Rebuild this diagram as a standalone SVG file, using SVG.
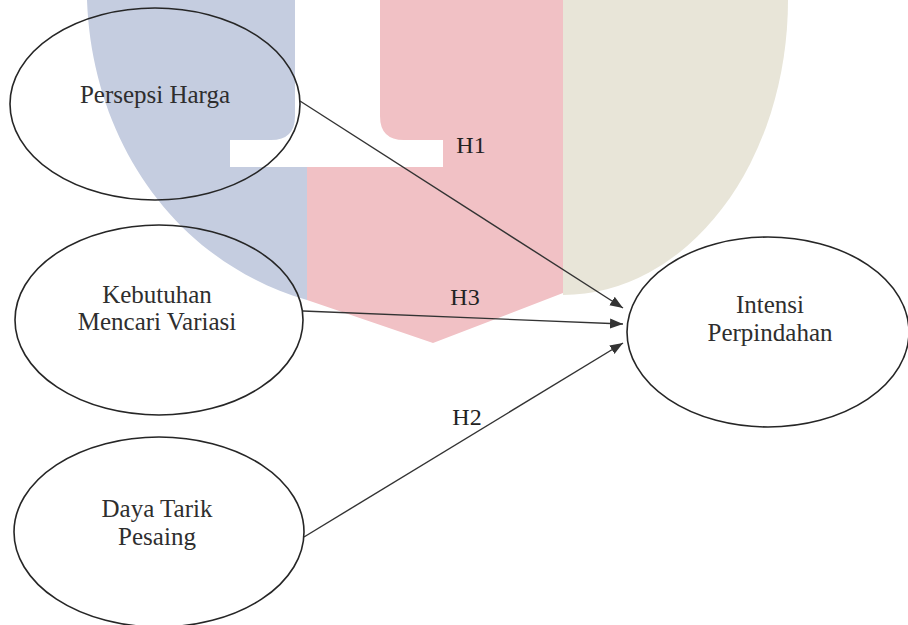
<svg xmlns="http://www.w3.org/2000/svg" width="908" height="625" viewBox="0 0 908 625">
<defs>
<style>
.node{fill:none;stroke:#262626;stroke-width:1.6}
.lbl{font-family:"Liberation Serif","Times New Roman",serif;font-size:25px;fill:#2e2e2e;text-anchor:middle}
.edge{stroke:#333;stroke-width:1.4;fill:none;marker-end:url(#arr)}
.elbl{font-family:"Liberation Serif","Times New Roman",serif;font-size:24px;fill:#222;text-anchor:middle}
</style>
<marker id="arr" markerUnits="userSpaceOnUse" markerWidth="14" markerHeight="12" refX="13" refY="5" orient="auto">
<path d="M0,0 L13,5 L0,10 Z" fill="#333"/>
</marker>
</defs>
<rect width="908" height="625" fill="#ffffff"/>
<g id="watermark">
<path d="M87,0 L295,0 L295,116 Q295,140 271,140 L230,140 L230,167 L307,167 L307,300 C175,262 92,140 87,0 Z" fill="#c5cde0"/>
<path d="M380,0 L563,0 L563,293 L433,343 L307,300 L307,167 L443,167 L443,140 L404,140 Q380,140 380,116 Z" fill="#f1c1c5"/>
<path d="M563,0 L788,0 A225,295 0 0 1 563,295 Z" fill="#e8e5d8"/>
</g>
<g id="connectors">
<line class="edge" x1="300" y1="101" x2="623" y2="308"/>
<line class="edge" x1="303" y1="311" x2="623" y2="324"/>
<line class="edge" x1="304" y1="537" x2="623" y2="343"/>
<text class="elbl" x="471" y="153">H1</text>
<text class="elbl" x="465" y="305">H3</text>
<text class="elbl" x="467" y="425">H2</text>
</g>
<g id="node-persepsi">
<ellipse class="node" cx="155" cy="104" rx="145" ry="96"/>
<text class="lbl" x="155" y="103">Persepsi Harga</text>
</g>
<g id="node-kebutuhan">
<ellipse class="node" cx="159" cy="320" rx="144" ry="95"/>
<text class="lbl" x="157" y="303">Kebutuhan</text>
<text class="lbl" x="157" y="330">Mencari Variasi</text>
</g>
<g id="node-daya">
<ellipse class="node" cx="159" cy="532" rx="145" ry="95"/>
<text class="lbl" x="157" y="517">Daya Tarik</text>
<text class="lbl" x="157" y="545">Pesaing</text>
</g>
<g id="node-intensi">
<ellipse class="node" cx="768" cy="332" rx="141" ry="95"/>
<text class="lbl" x="770" y="313">Intensi</text>
<text class="lbl" x="770" y="341">Perpindahan</text>
</g>
</svg>
